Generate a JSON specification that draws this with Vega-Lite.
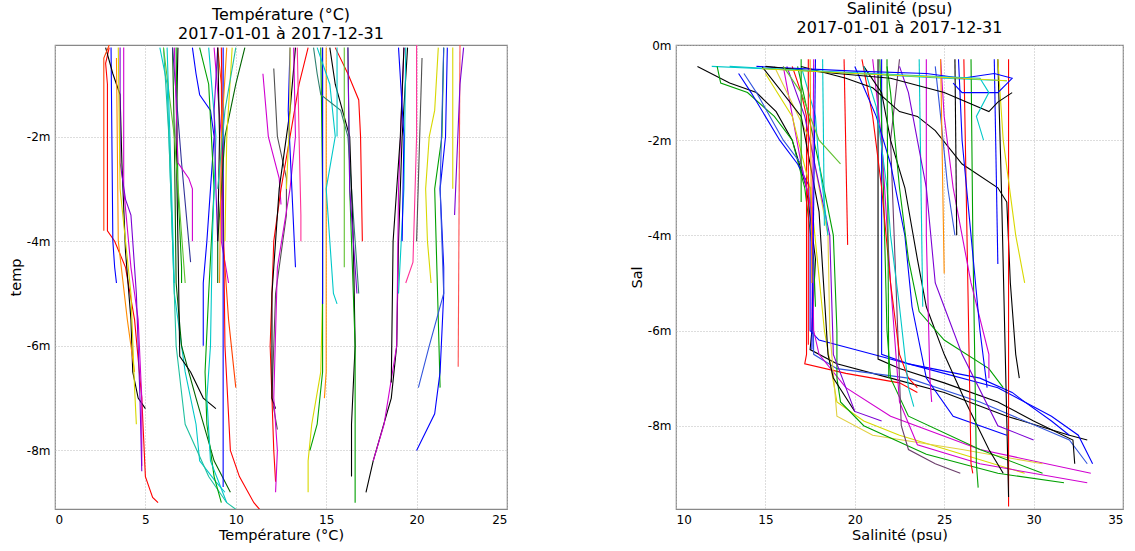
{
"$schema": "https://vega.github.io/schema/vega-lite/v6.json",
"background": "white",
"padding": {"left": 7, "top": 0, "right": 5, "bottom": 5},
"config": {
 "font": "DejaVu Sans",
 "view": {"stroke": "#888888", "strokeWidth": 1.2},
 "axis": {"labelFont": "DejaVu Sans", "labelFontSize": 12, "labelColor": "#000", "titleFont": "DejaVu Sans", "titleFontSize": 14.5, "titleFontWeight": "normal", "titleColor": "#000", "domain": false, "ticks": false, "grid": true, "gridColor": "#bbbbbb", "gridDash": [1, 2], "labelPadding": 5, "titlePadding": 3},
 "title": {"font": "DejaVu Sans", "fontSize": 16, "lineHeight": 19, "fontWeight": "normal", "color": "#000", "offset": 3, "frame": "group"},
 "line": {"strokeWidth": 1.1}
},
"datasets": {
"temp": [
{"p":"t01","d":-0.3,"v":3.0},{"p":"t01","d":-0.6,"v":2.8},{"p":"t01","d":-1.0,"v":2.9},{"p":"t01","d":-3.8,"v":2.9},{"p":"t01","d":-4.0,"v":3.3},{"p":"t01","d":-4.5,"v":3.9},{"p":"t01","d":-5.5,"v":4.4},{"p":"t01","d":-7.0,"v":4.8},{"p":"t01","d":-8.5,"v":5.0},{"p":"t01","d":-8.9,"v":5.4},{"p":"t01","d":-9.0,"v":5.7},
{"p":"t02","d":-0.3,"v":3.1},{"p":"t02","d":-4.0,"v":3.2},{"p":"t02","d":-4.5,"v":3.3},{"p":"t02","d":-4.8,"v":3.4},
{"p":"t03","d":-0.3,"v":2.8},{"p":"t03","d":-0.8,"v":3.2},{"p":"t03","d":-1.2,"v":3.6},{"p":"t03","d":-2.5,"v":3.7},{"p":"t03","d":-4.2,"v":3.9},{"p":"t03","d":-5.5,"v":4.2},{"p":"t03","d":-6.5,"v":4.3},{"p":"t03","d":-7.0,"v":4.6},{"p":"t03","d":-7.2,"v":5.0},
{"p":"t04","d":-0.3,"v":3.8},{"p":"t04","d":-3.0,"v":3.8},{"p":"t04","d":-4.5,"v":4.2},{"p":"t04","d":-5.5,"v":4.6},{"p":"t04","d":-7.0,"v":4.8},{"p":"t04","d":-8.3,"v":4.8},
{"p":"t05","d":-0.3,"v":3.6},{"p":"t05","d":-2.5,"v":3.6},{"p":"t05","d":-3.2,"v":3.9},{"p":"t05","d":-3.5,"v":4.2},{"p":"t05","d":-5.0,"v":4.5},{"p":"t05","d":-7.0,"v":4.7},{"p":"t05","d":-8.4,"v":4.8},
{"p":"t06","d":-0.5,"v":3.4},{"p":"t06","d":-4.0,"v":3.5},{"p":"t06","d":-5.5,"v":4.0},{"p":"t06","d":-6.5,"v":4.4},
{"p":"t07","d":-0.3,"v":3.5},{"p":"t07","d":-3.0,"v":3.6},{"p":"t07","d":-5.0,"v":4.2},{"p":"t07","d":-6.8,"v":4.4},{"p":"t07","d":-7.5,"v":4.5},
{"p":"t08","d":-0.25,"v":3.0},{"p":"t08","d":-0.5,"v":2.7},{"p":"t08","d":-3.8,"v":2.7},
{"p":"t09","d":-0.3,"v":5.8},{"p":"t09","d":-1.0,"v":6.2},{"p":"t09","d":-3.0,"v":6.4},{"p":"t09","d":-5.0,"v":6.6},{"p":"t09","d":-6.5,"v":7.2},{"p":"t09","d":-7.5,"v":7.8},{"p":"t09","d":-8.2,"v":8.0},{"p":"t09","d":-8.6,"v":8.9},{"p":"t09","d":-8.8,"v":9.4},
{"p":"t10","d":-0.3,"v":6.0},{"p":"t10","d":-2.0,"v":6.3},{"p":"t10","d":-4.0,"v":6.5},{"p":"t10","d":-6.0,"v":6.7},{"p":"t10","d":-7.5,"v":7.2},{"p":"t10","d":-8.5,"v":8.5},{"p":"t10","d":-9.0,"v":9.5},{"p":"t10","d":-9.2,"v":10.3},
{"p":"t11","d":-0.3,"v":6.5},{"p":"t11","d":-2.0,"v":6.6},{"p":"t11","d":-4.8,"v":6.7},{"p":"t11","d":-6.0,"v":7.0},{"p":"t11","d":-7.0,"v":7.8},{"p":"t11","d":-8.2,"v":8.8},{"p":"t11","d":-8.8,"v":9.7},
{"p":"t12","d":-0.3,"v":6.8},{"p":"t12","d":-2.0,"v":6.7},{"p":"t12","d":-4.0,"v":6.8},{"p":"t12","d":-6.2,"v":6.9},{"p":"t12","d":-6.5,"v":7.5},{"p":"t12","d":-7.0,"v":8.2},{"p":"t12","d":-7.2,"v":8.9},
{"p":"t13","d":-0.3,"v":6.7},{"p":"t13","d":-3.0,"v":6.8},{"p":"t13","d":-4.5,"v":7.0},{"p":"t13","d":-4.8,"v":7.0},
{"p":"t14","d":-0.3,"v":6.5},{"p":"t14","d":-2.5,"v":7.0},{"p":"t14","d":-4.4,"v":7.5},
{"p":"t15","d":-0.3,"v":6.6},{"p":"t15","d":-2.5,"v":6.8},{"p":"t15","d":-2.8,"v":7.4},{"p":"t15","d":-3.0,"v":7.6},{"p":"t15","d":-4.0,"v":7.6},
{"p":"t16","d":-0.3,"v":6.0},{"p":"t16","d":-2.0,"v":6.6},{"p":"t16","d":-4.8,"v":7.2},
{"p":"t17","d":-0.3,"v":6.2},{"p":"t17","d":-2.5,"v":6.4},{"p":"t17","d":-4.8,"v":6.6},
{"p":"t18","d":-0.3,"v":7.6},{"p":"t18","d":-0.8,"v":7.8},{"p":"t18","d":-1.2,"v":8.0},{"p":"t18","d":-1.5,"v":8.6},{"p":"t18","d":-2.0,"v":8.8},{"p":"t18","d":-3.0,"v":8.6},{"p":"t18","d":-4.0,"v":8.4},{"p":"t18","d":-4.8,"v":8.2},{"p":"t18","d":-6.0,"v":8.2},
{"p":"t19","d":-0.3,"v":8.0},{"p":"t19","d":-1.0,"v":8.5},{"p":"t19","d":-3.0,"v":8.8},{"p":"t19","d":-5.0,"v":8.5},{"p":"t19","d":-6.5,"v":8.3},{"p":"t19","d":-7.5,"v":8.4},{"p":"t19","d":-8.5,"v":8.8},{"p":"t19","d":-9.0,"v":9.2},
{"p":"t20","d":-0.3,"v":8.5},{"p":"t20","d":-2.0,"v":8.9},{"p":"t20","d":-4.0,"v":8.7},{"p":"t20","d":-6.0,"v":8.6},{"p":"t20","d":-7.0,"v":8.4},{"p":"t20","d":-8.2,"v":8.6},{"p":"t20","d":-9.0,"v":9.5},
{"p":"t21","d":-0.3,"v":8.8},{"p":"t21","d":-2.0,"v":9.2},{"p":"t21","d":-4.0,"v":9.2},{"p":"t21","d":-4.8,"v":9.6},
{"p":"t22","d":-0.3,"v":9.0},{"p":"t22","d":-1.0,"v":9.2},{"p":"t22","d":-4.0,"v":9.3},{"p":"t22","d":-5.5,"v":9.6},{"p":"t22","d":-6.8,"v":10.0},
{"p":"t23","d":-0.3,"v":9.2},{"p":"t23","d":-3.0,"v":9.3},{"p":"t23","d":-6.0,"v":9.4},{"p":"t23","d":-8.0,"v":9.7},{"p":"t23","d":-8.5,"v":10.2},{"p":"t23","d":-9.0,"v":11.0},{"p":"t23","d":-9.2,"v":11.5},
{"p":"t24","d":-0.3,"v":9.3},{"p":"t24","d":-4.0,"v":9.3},{"p":"t24","d":-8.7,"v":9.3},
{"p":"t25","d":-0.3,"v":10.5},{"p":"t25","d":-1.0,"v":10.0},{"p":"t25","d":-2.0,"v":9.4},{"p":"t25","d":-4.0,"v":9.0},{"p":"t25","d":-4.8,"v":9.0},
{"p":"t26","d":-0.3,"v":9.0},{"p":"t26","d":-1.5,"v":8.8},{"p":"t26","d":-3.0,"v":8.9},{"p":"t26","d":-4.0,"v":9.0},
{"p":"t27","d":-0.3,"v":9.5},{"p":"t27","d":-2.0,"v":9.2},{"p":"t27","d":-4.8,"v":9.1},
{"p":"t28","d":-0.3,"v":9.0},{"p":"t28","d":-2.0,"v":9.1},{"p":"t28","d":-4.0,"v":9.0},
{"p":"t29","d":-0.3,"v":9.8},{"p":"t29","d":-2.0,"v":9.5},{"p":"t29","d":-4.0,"v":9.4},
{"p":"t30","d":-0.3,"v":10.0},{"p":"t30","d":-1.5,"v":9.4},{"p":"t30","d":-3.0,"v":9.0},
{"p":"t31","d":-0.8,"v":11.5},{"p":"t31","d":-2.0,"v":11.8},{"p":"t31","d":-2.8,"v":12.4},{"p":"t31","d":-3.3,"v":12.5},
{"p":"t32","d":-0.7,"v":12.1},{"p":"t32","d":-2.0,"v":12.3},{"p":"t32","d":-2.8,"v":12.8},{"p":"t32","d":-3.5,"v":12.8},{"p":"t32","d":-5.0,"v":12.2},{"p":"t32","d":-7.0,"v":12.0},{"p":"t32","d":-7.6,"v":12.3},
{"p":"t33","d":-0.3,"v":14.0},{"p":"t33","d":-1.0,"v":13.5},{"p":"t33","d":-2.0,"v":13.0},{"p":"t33","d":-3.0,"v":12.5},{"p":"t33","d":-4.0,"v":12.1},{"p":"t33","d":-6.0,"v":11.9},{"p":"t33","d":-8.0,"v":12.1},{"p":"t33","d":-8.6,"v":12.2},
{"p":"t34","d":-0.3,"v":13.3},{"p":"t34","d":-1.5,"v":13.0},{"p":"t34","d":-3.0,"v":12.4},{"p":"t34","d":-5.0,"v":12.0},{"p":"t34","d":-7.0,"v":12.0},{"p":"t34","d":-7.2,"v":12.2},
{"p":"t35","d":-0.3,"v":13.2},{"p":"t35","d":-2.0,"v":13.3},{"p":"t35","d":-3.0,"v":13.0},{"p":"t35","d":-4.5,"v":12.3},{"p":"t35","d":-7.0,"v":12.1},{"p":"t35","d":-8.0,"v":12.3},{"p":"t35","d":-8.8,"v":12.2},
{"p":"t36","d":-0.3,"v":13.0},{"p":"t36","d":-1.5,"v":12.9},{"p":"t36","d":-3.0,"v":13.1},{"p":"t36","d":-4.5,"v":13.3},
{"p":"t37","d":-0.3,"v":13.0},{"p":"t37","d":-1.5,"v":13.0},{"p":"t37","d":-3.0,"v":12.8},
{"p":"t38","d":-0.3,"v":13.4},{"p":"t38","d":-2.0,"v":13.5},{"p":"t38","d":-3.5,"v":13.6},{"p":"t38","d":-4.0,"v":13.6},
{"p":"t39","d":-0.3,"v":14.8},{"p":"t39","d":-5.0,"v":14.8},{"p":"t39","d":-6.5,"v":14.7},{"p":"t39","d":-7.5,"v":14.2},{"p":"t39","d":-8.2,"v":14.0},{"p":"t39","d":-8.8,"v":14.0},
{"p":"t40","d":-0.3,"v":14.7},{"p":"t40","d":-3.0,"v":14.8},{"p":"t40","d":-6.5,"v":14.8},{"p":"t40","d":-7.5,"v":14.5},{"p":"t40","d":-8.0,"v":14.1},
{"p":"t41","d":-0.3,"v":15.0},{"p":"t41","d":-4.0,"v":15.0},{"p":"t41","d":-6.5,"v":15.0},{"p":"t41","d":-7.0,"v":14.9},
{"p":"t42","d":-0.3,"v":14.8},{"p":"t42","d":-3.0,"v":14.8},{"p":"t42","d":-5.2,"v":14.8},
{"p":"t43","d":-0.3,"v":14.5},{"p":"t43","d":-1.0,"v":15.2},{"p":"t43","d":-2.0,"v":15.5},{"p":"t43","d":-3.0,"v":15.0},{"p":"t43","d":-5.0,"v":15.4},{"p":"t43","d":-5.2,"v":15.6},
{"p":"t44","d":-0.3,"v":14.3},{"p":"t44","d":-0.8,"v":14.5},{"p":"t44","d":-1.2,"v":14.7},{"p":"t44","d":-1.5,"v":15.8},{"p":"t44","d":-2.0,"v":16.2},{"p":"t44","d":-3.0,"v":16.4},{"p":"t44","d":-5.0,"v":16.8},
{"p":"t45","d":-0.3,"v":15.2},{"p":"t45","d":-1.0,"v":15.5},{"p":"t45","d":-2.0,"v":16.3},{"p":"t45","d":-4.0,"v":16.5},{"p":"t45","d":-6.0,"v":16.6},{"p":"t45","d":-7.5,"v":16.4},{"p":"t45","d":-8.5,"v":16.4},
{"p":"t46","d":-0.3,"v":16.2},{"p":"t46","d":-3.0,"v":16.3},{"p":"t46","d":-6.0,"v":16.6},{"p":"t46","d":-8.0,"v":16.6},{"p":"t46","d":-9.0,"v":16.6},
{"p":"t47","d":-0.3,"v":15.5},{"p":"t47","d":-0.8,"v":16.2},{"p":"t47","d":-1.3,"v":16.8},{"p":"t47","d":-2.0,"v":16.9},{"p":"t47","d":-4.0,"v":17.0},
{"p":"t48","d":-0.3,"v":15.6},{"p":"t48","d":-2.0,"v":15.6},
{"p":"t49","d":-0.3,"v":16.0},{"p":"t49","d":-4.5,"v":16.0},
{"p":"t50","d":-0.3,"v":16.2},{"p":"t50","d":-3.0,"v":16.3},{"p":"t50","d":-5.0,"v":16.7},
{"p":"t51","d":-0.3,"v":19.5},{"p":"t51","d":-2.0,"v":19.2},{"p":"t51","d":-4.0,"v":19.0},{"p":"t51","d":-6.0,"v":18.9},{"p":"t51","d":-7.0,"v":18.6},{"p":"t51","d":-8.2,"v":17.6},{"p":"t51","d":-8.8,"v":17.2},
{"p":"t52","d":-0.3,"v":19.3},{"p":"t52","d":-3.0,"v":19.0},{"p":"t52","d":-6.0,"v":18.9},{"p":"t52","d":-7.5,"v":18.2},{"p":"t52","d":-8.2,"v":17.6},
{"p":"t53","d":-0.3,"v":19.3},{"p":"t53","d":-2.0,"v":19.1},{"p":"t53","d":-4.0,"v":18.7},{"p":"t53","d":-6.7,"v":18.6},
{"p":"t54","d":-0.3,"v":19.4},{"p":"t54","d":-3.0,"v":19.3},{"p":"t54","d":-5.0,"v":19.0},
{"p":"t55","d":-0.25,"v":20.0},{"p":"t55","d":-2.0,"v":20.0},{"p":"t55","d":-4.4,"v":19.8},{"p":"t55","d":-4.8,"v":19.4},
{"p":"t56","d":-0.3,"v":19.0},{"p":"t56","d":-2.0,"v":19.3},{"p":"t56","d":-4.0,"v":19.2},
{"p":"t57","d":-0.5,"v":20.3},{"p":"t57","d":-4.0,"v":20.0},
{"p":"t58","d":-0.3,"v":21.2},{"p":"t58","d":-1.5,"v":21.0},{"p":"t58","d":-2.0,"v":20.7},{"p":"t58","d":-3.0,"v":20.5},{"p":"t58","d":-4.0,"v":20.6},{"p":"t58","d":-4.8,"v":20.8},
{"p":"t59","d":-0.3,"v":21.5},{"p":"t59","d":-2.0,"v":21.4},{"p":"t59","d":-3.0,"v":21.0},{"p":"t59","d":-5.5,"v":21.2},{"p":"t59","d":-6.8,"v":21.3},
{"p":"t60","d":-0.3,"v":21.7},{"p":"t60","d":-2.0,"v":21.6},{"p":"t60","d":-3.0,"v":21.3},{"p":"t60","d":-4.5,"v":21.5},{"p":"t60","d":-5.0,"v":21.5},{"p":"t60","d":-6.5,"v":21.3},{"p":"t60","d":-7.3,"v":21.0},{"p":"t60","d":-8.0,"v":20.0},
{"p":"t61","d":-0.3,"v":21.5},{"p":"t61","d":-3.0,"v":21.3},{"p":"t61","d":-5.0,"v":21.5},{"p":"t61","d":-6.0,"v":20.7},{"p":"t61","d":-6.8,"v":20.1},
{"p":"t62","d":-0.25,"v":22.4},{"p":"t62","d":-6.4,"v":22.3},
{"p":"t63","d":-0.3,"v":22.6},{"p":"t63","d":-1.0,"v":22.4},{"p":"t63","d":-3.5,"v":22.1},
{"p":"t64","d":-0.3,"v":22.0},{"p":"t64","d":-3.0,"v":22.0}
],
"sal": [
{"p":"s01","d":-0.45,"v":11.2},{"p":"s01","d":-0.8,"v":13.0},{"p":"s01","d":-1.0,"v":14.5},{"p":"s01","d":-1.4,"v":15.6},{"p":"s01","d":-2.0,"v":16.5},{"p":"s01","d":-3.0,"v":17.3},{"p":"s01","d":-4.5,"v":17.8},{"p":"s01","d":-6.0,"v":17.6},{"p":"s01","d":-6.4,"v":17.5},{"p":"s01","d":-6.7,"v":19.0},{"p":"s01","d":-7.0,"v":22.0},{"p":"s01","d":-7.3,"v":25.0},{"p":"s01","d":-7.8,"v":28.5},{"p":"s01","d":-8.2,"v":32.0},{"p":"s01","d":-8.3,"v":33.0},
{"p":"s02","d":-0.45,"v":12.0},{"p":"s02","d":-0.5,"v":15.0},{"p":"s02","d":-0.6,"v":20.0},{"p":"s02","d":-0.7,"v":25.0},{"p":"s02","d":-0.75,"v":28.5},
{"p":"s03","d":-0.45,"v":12.3},{"p":"s03","d":-0.8,"v":12.5},{"p":"s03","d":-1.0,"v":14.0},{"p":"s03","d":-1.5,"v":15.5},{"p":"s03","d":-2.0,"v":16.5},{"p":"s03","d":-3.0,"v":17.2},{"p":"s03","d":-4.5,"v":17.7},{"p":"s03","d":-5.5,"v":17.8},
{"p":"s04","d":-0.6,"v":13.5},{"p":"s04","d":-1.0,"v":14.2},{"p":"s04","d":-1.5,"v":15.0},{"p":"s04","d":-2.0,"v":15.8},{"p":"s04","d":-2.5,"v":16.8},{"p":"s04","d":-3.0,"v":17.5},{"p":"s04","d":-6.0,"v":17.5},{"p":"s04","d":-6.2,"v":18.0},{"p":"s04","d":-6.5,"v":21.0},{"p":"s04","d":-6.8,"v":24.0},{"p":"s04","d":-7.2,"v":28.0},{"p":"s04","d":-7.8,"v":31.0},{"p":"s04","d":-8.2,"v":32.5},{"p":"s04","d":-8.8,"v":33.3},
{"p":"s05","d":-0.6,"v":13.8},{"p":"s05","d":-1.0,"v":14.5},{"p":"s05","d":-2.0,"v":16.0},{"p":"s05","d":-2.5,"v":17.0},{"p":"s05","d":-3.5,"v":17.6},{"p":"s05","d":-6.5,"v":17.7},{"p":"s05","d":-6.8,"v":19.0},{"p":"s05","d":-7.0,"v":23.0},{"p":"s05","d":-7.5,"v":27.0},{"p":"s05","d":-8.3,"v":32.0},{"p":"s05","d":-8.8,"v":33.0},
{"p":"s06","d":-0.45,"v":16.5},{"p":"s06","d":-1.0,"v":17.0},{"p":"s06","d":-1.5,"v":17.3},{"p":"s06","d":-6.5,"v":17.3},{"p":"s06","d":-6.7,"v":17.2},{"p":"s06","d":-6.9,"v":19.5},{"p":"s06","d":-7.1,"v":22.5},{"p":"s06","d":-7.3,"v":23.5},
{"p":"s07","d":-0.45,"v":16.0},{"p":"s07","d":-2.5,"v":17.0},{"p":"s07","d":-3.5,"v":17.6},{"p":"s07","d":-6.0,"v":17.7},{"p":"s07","d":-6.5,"v":18.0},{"p":"s07","d":-7.2,"v":19.5},{"p":"s07","d":-7.8,"v":22.0},{"p":"s07","d":-8.5,"v":27.0},{"p":"s07","d":-9.0,"v":33.2},
{"p":"s08","d":-0.6,"v":15.0},{"p":"s08","d":-1.5,"v":16.5},{"p":"s08","d":-3.0,"v":17.5},{"p":"s08","d":-6.0,"v":18.3},{"p":"s08","d":-7.5,"v":19.0},{"p":"s08","d":-7.9,"v":20.5},{"p":"s08","d":-8.2,"v":22.5},{"p":"s08","d":-8.6,"v":26.0},{"p":"s08","d":-9.0,"v":29.5},
{"p":"s09","d":-0.45,"v":15.5},{"p":"s09","d":-2.0,"v":17.5},{"p":"s09","d":-4.0,"v":18.5},{"p":"s09","d":-6.0,"v":18.6},{"p":"s09","d":-7.8,"v":19.0},{"p":"s09","d":-8.2,"v":21.0},{"p":"s09","d":-8.5,"v":26.0},{"p":"s09","d":-8.8,"v":30.5},
{"p":"s10","d":-0.45,"v":16.8},{"p":"s10","d":-2.5,"v":18.0},{"p":"s10","d":-4.0,"v":18.8},{"p":"s10","d":-6.0,"v":19.0},{"p":"s10","d":-7.0,"v":19.0},{"p":"s10","d":-7.5,"v":19.2},{"p":"s10","d":-8.0,"v":20.5},{"p":"s10","d":-8.6,"v":24.0},{"p":"s10","d":-9.0,"v":28.0},{"p":"s10","d":-9.2,"v":31.7},
{"p":"s11","d":-0.45,"v":14.8},{"p":"s11","d":-1.5,"v":17.0},{"p":"s11","d":-3.5,"v":18.0},{"p":"s11","d":-6.5,"v":18.5},{"p":"s11","d":-7.0,"v":18.8},{"p":"s11","d":-7.7,"v":20.0},
{"p":"s12","d":-0.45,"v":16.2},{"p":"s12","d":-1.5,"v":17.2},{"p":"s12","d":-4.0,"v":18.6},{"p":"s12","d":-6.5,"v":18.8},{"p":"s12","d":-7.7,"v":20.0},{"p":"s12","d":-7.9,"v":21.5},
{"p":"s13","d":-0.45,"v":17.0},{"p":"s13","d":-1.5,"v":17.8},{"p":"s13","d":-2.5,"v":18.0},{"p":"s13","d":-3.0,"v":18.2},{"p":"s13","d":-4.0,"v":18.5},
{"p":"s14","d":-0.3,"v":17.0},{"p":"s14","d":-3.3,"v":17.0},
{"p":"s15","d":-0.3,"v":17.4},{"p":"s15","d":-6.3,"v":17.4},
{"p":"s16","d":-0.3,"v":17.7},{"p":"s16","d":-6.0,"v":17.6},
{"p":"s17","d":-0.3,"v":17.8},{"p":"s17","d":-6.4,"v":17.6},
{"p":"s18","d":-0.3,"v":18.2},{"p":"s18","d":-3.8,"v":18.3},
{"p":"s19","d":-0.3,"v":19.4},{"p":"s19","d":-4.2,"v":19.6},
{"p":"s20","d":-0.3,"v":21.3},{"p":"s20","d":-6.0,"v":21.3},{"p":"s20","d":-6.6,"v":21.3},{"p":"s20","d":-6.8,"v":22.5},{"p":"s20","d":-7.1,"v":25.0},{"p":"s20","d":-7.5,"v":28.0},{"p":"s20","d":-7.9,"v":30.0},{"p":"s20","d":-8.3,"v":32.2},{"p":"s20","d":-8.8,"v":32.3},
{"p":"s21","d":-0.3,"v":21.5},{"p":"s21","d":-6.5,"v":21.5},{"p":"s21","d":-6.7,"v":23.0},{"p":"s21","d":-7.0,"v":27.0},{"p":"s21","d":-7.3,"v":28.8},{"p":"s21","d":-7.5,"v":29.5},{"p":"s21","d":-7.9,"v":31.0},{"p":"s21","d":-8.2,"v":32.0},
{"p":"s22","d":-0.3,"v":21.4},{"p":"s22","d":-3.0,"v":21.6},{"p":"s22","d":-6.0,"v":21.8},{"p":"s22","d":-7.0,"v":22.0},{"p":"s22","d":-7.8,"v":23.0},{"p":"s22","d":-8.5,"v":27.0},{"p":"s22","d":-9.0,"v":30.5},
{"p":"s23","d":-0.3,"v":21.0},{"p":"s23","d":-2.0,"v":21.5},{"p":"s23","d":-5.0,"v":22.0},{"p":"s23","d":-7.5,"v":22.5},{"p":"s23","d":-8.4,"v":23.5},{"p":"s23","d":-8.8,"v":27.0},{"p":"s23","d":-9.2,"v":33.0},
{"p":"s24","d":-0.3,"v":22.5},{"p":"s24","d":-2.0,"v":22.0},{"p":"s24","d":-4.0,"v":22.2},{"p":"s24","d":-6.0,"v":22.4},{"p":"s24","d":-7.0,"v":22.5},{"p":"s24","d":-8.0,"v":22.6},{"p":"s24","d":-8.5,"v":23.0},{"p":"s24","d":-8.8,"v":24.5},{"p":"s24","d":-9.0,"v":25.9},
{"p":"s25","d":-0.3,"v":20.4},{"p":"s25","d":-1.5,"v":21.0},{"p":"s25","d":-3.0,"v":21.5},{"p":"s25","d":-5.0,"v":22.0},{"p":"s25","d":-6.5,"v":22.5},{"p":"s25","d":-7.0,"v":23.0},{"p":"s25","d":-7.2,"v":23.5},
{"p":"s26","d":-0.45,"v":20.5},{"p":"s26","d":-1.0,"v":21.5},{"p":"s26","d":-2.0,"v":22.0},{"p":"s26","d":-3.0,"v":22.8},{"p":"s26","d":-4.5,"v":23.5},{"p":"s26","d":-5.5,"v":24.0},{"p":"s26","d":-6.5,"v":25.0},{"p":"s26","d":-7.5,"v":26.2},{"p":"s26","d":-8.5,"v":27.5},{"p":"s26","d":-9.0,"v":28.3},
{"p":"s27","d":-0.45,"v":20.0},{"p":"s27","d":-1.5,"v":21.2},{"p":"s27","d":-2.5,"v":22.0},{"p":"s27","d":-4.0,"v":22.8},{"p":"s27","d":-5.5,"v":23.2},{"p":"s27","d":-7.0,"v":24.0},{"p":"s27","d":-7.8,"v":25.5},{"p":"s27","d":-8.2,"v":28.5},
{"p":"s28","d":-0.45,"v":21.8},{"p":"s28","d":-1.0,"v":22.0},{"p":"s28","d":-3.0,"v":22.5},{"p":"s28","d":-4.5,"v":23.0},{"p":"s28","d":-5.6,"v":23.6},{"p":"s28","d":-6.2,"v":25.0},{"p":"s28","d":-6.8,"v":27.5},{"p":"s28","d":-7.2,"v":28.3},
{"p":"s29","d":-0.45,"v":17.0},{"p":"s29","d":-0.7,"v":19.5},{"p":"s29","d":-0.9,"v":21.0},{"p":"s29","d":-1.4,"v":22.5},{"p":"s29","d":-1.5,"v":23.5},{"p":"s29","d":-1.8,"v":24.5},{"p":"s29","d":-2.5,"v":26.0},{"p":"s29","d":-3.0,"v":28.0},{"p":"s29","d":-3.3,"v":28.5},{"p":"s29","d":-5.0,"v":28.7},{"p":"s29","d":-6.5,"v":29.0},{"p":"s29","d":-7.0,"v":29.2},
{"p":"s30","d":-0.3,"v":24.0},{"p":"s30","d":-4.0,"v":24.0},{"p":"s30","d":-7.0,"v":24.2},{"p":"s30","d":-7.5,"v":24.3},
{"p":"s31","d":-0.3,"v":23.6},{"p":"s31","d":-5.5,"v":23.8},
{"p":"s32","d":-0.3,"v":26.1},{"p":"s32","d":-8.8,"v":26.5},{"p":"s32","d":-9.0,"v":26.6},
{"p":"s33","d":-0.3,"v":26.5},{"p":"s33","d":-4.0,"v":26.6},{"p":"s33","d":-8.8,"v":26.8},{"p":"s33","d":-9.3,"v":26.9},
{"p":"s34","d":-0.3,"v":28.6},{"p":"s34","d":-9.7,"v":28.6},
{"p":"s35","d":-0.3,"v":28.0},{"p":"s35","d":-3.0,"v":28.2},{"p":"s35","d":-9.5,"v":28.6},
{"p":"s36","d":-0.3,"v":27.8},{"p":"s36","d":-4.6,"v":28.0},
{"p":"s37","d":-0.3,"v":28.0},{"p":"s37","d":-2.0,"v":28.3},{"p":"s37","d":-4.0,"v":29.0},{"p":"s37","d":-5.0,"v":29.5},
{"p":"s38","d":-0.3,"v":24.8},{"p":"s38","d":-1.5,"v":25.0},{"p":"s38","d":-3.0,"v":25.5},{"p":"s38","d":-4.0,"v":26.0},{"p":"s38","d":-5.0,"v":26.5},{"p":"s38","d":-6.5,"v":27.5},{"p":"s38","d":-7.0,"v":27.5},
{"p":"s39","d":-0.3,"v":25.8},{"p":"s39","d":-2.0,"v":26.0},{"p":"s39","d":-4.0,"v":26.5},{"p":"s39","d":-6.0,"v":27.0},{"p":"s39","d":-7.2,"v":27.4},
{"p":"s40","d":-0.45,"v":24.5},{"p":"s40","d":-1.5,"v":24.8},{"p":"s40","d":-3.0,"v":25.2},{"p":"s40","d":-4.0,"v":25.6},
{"p":"s41","d":-0.3,"v":25.6},{"p":"s41","d":-4.0,"v":25.7},
{"p":"s42","d":-0.45,"v":20.5},{"p":"s42","d":-1.3,"v":21.2},{"p":"s42","d":-3.0,"v":21.8},{"p":"s42","d":-4.0,"v":22.0},{"p":"s42","d":-5.5,"v":22.5},{"p":"s42","d":-7.2,"v":23.0},{"p":"s42","d":-7.6,"v":23.3},
{"p":"s43","d":-0.3,"v":24.8},{"p":"s43","d":-4.8,"v":25.0},
{"p":"s44","d":-0.45,"v":22.5},{"p":"s44","d":-1.0,"v":23.0},{"p":"s44","d":-3.0,"v":24.0},{"p":"s44","d":-5.0,"v":24.5},{"p":"s44","d":-5.5,"v":25.0},{"p":"s44","d":-6.5,"v":26.0},{"p":"s44","d":-8.0,"v":28.0},{"p":"s44","d":-8.3,"v":30.0},
{"p":"s45","d":-0.45,"v":14.5},{"p":"s45","d":-0.55,"v":20.0},{"p":"s45","d":-0.6,"v":24.0},{"p":"s45","d":-0.7,"v":26.0},{"p":"s45","d":-0.6,"v":27.8},{"p":"s45","d":-0.7,"v":28.8},{"p":"s45","d":-1.0,"v":28.0},{"p":"s45","d":-1.0,"v":26.0},{"p":"s45","d":-0.8,"v":25.5},
{"p":"s46","d":-0.45,"v":15.0},{"p":"s46","d":-0.6,"v":19.0},{"p":"s46","d":-0.7,"v":22.0},{"p":"s46","d":-1.0,"v":25.0},{"p":"s46","d":-1.4,"v":27.5},{"p":"s46","d":-1.2,"v":28.0},{"p":"s46","d":-1.0,"v":28.8},
{"p":"s47","d":-0.45,"v":13.0},{"p":"s47","d":-0.55,"v":18.0},{"p":"s47","d":-0.65,"v":24.0},{"p":"s47","d":-0.7,"v":27.0},{"p":"s47","d":-1.0,"v":27.5},{"p":"s47","d":-1.5,"v":26.8},{"p":"s47","d":-2.0,"v":27.2},
{"p":"s48","d":-0.5,"v":14.8},{"p":"s48","d":-0.6,"v":20.0},{"p":"s48","d":-0.7,"v":26.0},{"p":"s48","d":-0.75,"v":28.5},
{"p":"s49","d":-0.3,"v":21.8},{"p":"s49","d":-7.0,"v":21.9},
{"p":"s50","d":-0.3,"v":17.5},{"p":"s50","d":-5.0,"v":17.6},
{"p":"s51","d":-0.45,"v":16.0},{"p":"s51","d":-1.0,"v":17.0},{"p":"s51","d":-2.0,"v":18.0},{"p":"s51","d":-2.5,"v":19.2}
]
},
"spacing": 120,
"resolve": {"scale": {"color": "independent"}},
"hconcat": [
{
 "width": 452, "height": 464,
 "title": {"text": ["Température (°C)", "2017-01-01 à 2017-12-31"]},
 "data": {"name": "temp"},
 "mark": {"type": "line", "clip": true, "strokeWidth": 1.1},
 "encoding": {
  "x": {"field": "v", "type": "quantitative", "scale": {"domain": [0, 25], "nice": false}, "axis": {"values": [0, 5, 10, 15, 20, 25], "title": "Température (°C)"}},
  "y": {"field": "d", "type": "quantitative", "scale": {"domain": [-9.12, -0.25], "nice": false, "zero": false}, "axis": {"values": [-2, -4, -6, -8], "labelExpr": "datum.value + 'm'", "title": "temp"}},
  "color": {"field": "p", "type": "nominal", "legend": null, "scale": {"range": ["#ff0000","#0000ff","#000000","#d000d0","#7b00d4","#ff8c00","#d8d800","#ff4000","#00c8c8","#20c0a0","#006400","#000000","#00a000","#333399","#d000d0","#60c030","#00c8c8","#0000ff","#00a000","#00c8c8","#d000d0","#ff4000","#ff0000","#0000ff","#006400","#7b00d4","#ff8c00","#000000","#d8d800","#20c0a0","#d000d0","#505050","#ff0000","#000000","#d000d0","#0000ff","#d8d800","#ff3399","#d8d800","#00a000","#ff8c00","#0000ff","#00c8c8","#2f7f6f","#000000","#00a000","#ff0000","#00c8c8","#60c030","#7b00d4","#000000","#d000d0","#000000","#00c8c8","#ff3399","#0000ff","#505050","#d8d800","#00a000","#0000ff","#3355dd","#ff5050","#7b00d4","#d8d800"]}},
  "order": {"value": null}
 }
},
{
 "width": 447, "height": 464,
 "title": {"text": ["Salinité (psu)", "2017-01-01 à 2017-12-31"]},
 "data": {"name": "sal"},
 "mark": {"type": "line", "clip": true, "strokeWidth": 1.1},
 "encoding": {
  "x": {"field": "v", "type": "quantitative", "scale": {"domain": [10, 35], "nice": false, "zero": false}, "axis": {"values": [10, 15, 20, 25, 30, 35], "title": "Salinité (psu)"}},
  "y": {"field": "d", "type": "quantitative", "scale": {"domain": [-9.75, 0], "nice": false, "zero": false}, "axis": {"values": [0, -2, -4, -6, -8], "labelExpr": "datum.value + 'm'", "title": "Sal"}},
  "color": {"field": "p", "type": "nominal", "legend": null, "scale": {"range": ["#000000","#00c8c8","#00a000","#0000ff","#3355dd","#ff0000","#d000d0","#d8d800","#e0d040","#00a000","#000000","#7b00d4","#00c8c8","#00a000","#ff0000","#d000d0","#0000ff","#00c8c8","#ff0000","#000000","#0000ff","#00a000","#d000d0","#6a3d6a","#ff0000","#000000","#0000ff","#00a000","#000000","#d000d0","#00c8c8","#ff0000","#00a000","#ff0000","#000000","#0000ff","#d8d800","#d000d0","#0000ff","#3355dd","#000000","#00c8c8","#ff8c00","#7b00d4","#0000ff","#000000","#00c8c8","#d8d800","#00a000","#ff8c00","#60c030"]}},
  "order": {"value": null}
 }
}
]
}
